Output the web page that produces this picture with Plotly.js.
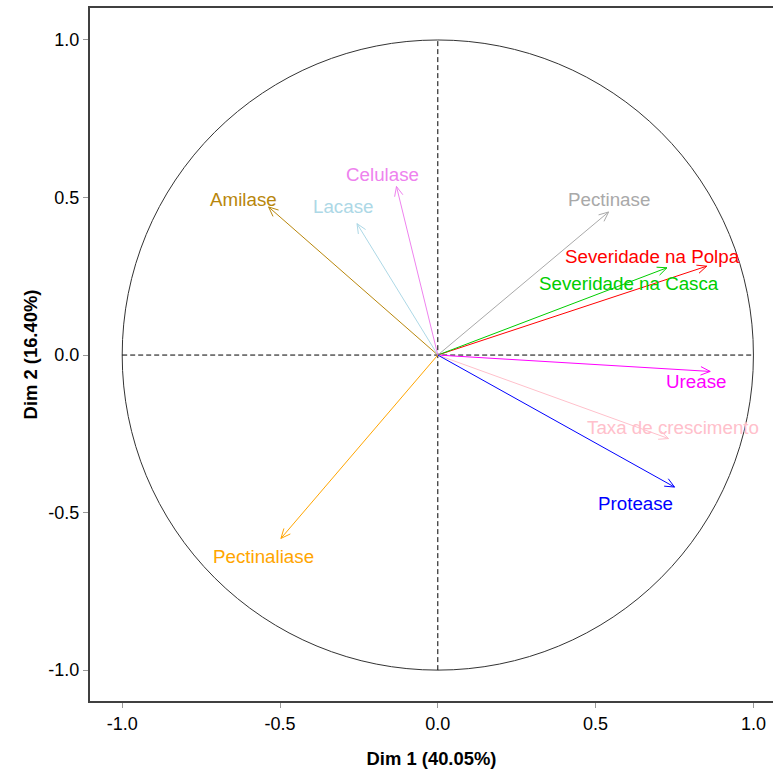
<!DOCTYPE html>
<html>
<head>
<meta charset="utf-8">
<script src="https://cdn.plot.ly/plotly-3.0.1.min.js"></script>
<style>
  html, body { margin: 0; padding: 0; background: #ffffff; }
  #chart { width: 773px; height: 769px; }
</style>
</head>
<body>
<div id="chart"></div>
<script>
// Variable loadings on the first two principal dimensions
const variables = ['Amilase', 'Lacase', 'Celulase', 'Pectinase', 'Severidade na Polpa',
  'Severidade na Casca', 'Urease', 'Taxa de crescimento', 'Protease', 'Pectinaliase'];
const dim1 = [-0.536, -0.256, -0.131, 0.541, 0.852, 0.726, 0.863, 0.731, 0.750, -0.497];
const dim2 = [0.470, 0.417, 0.535, 0.454, 0.282, 0.277, -0.052, -0.265, -0.419, -0.582];
const colors = ['#B8860B', '#ADD8E6', '#EE82EE', '#A9A9A9', '#FF0000',
  '#00CD00', '#FF00FF', '#FFC0CB', '#0000FF', '#FFA500'];
// Label anchor positions (data units)
const labelX = [-0.615, -0.302, -0.174, 0.543, 0.679, 0.606, 0.819, 0.745, 0.627, -0.552];
const labelY = [0.494, 0.472, 0.573, 0.494, 0.313, 0.227, -0.085, -0.230, -0.470, -0.640];
const tickVals = [-1, -0.5, 0, 0.5, 1];
const tickText = ['-1.0', '-0.5', '0.0', '0.5', '1.0'];
const xTitle = 'Dim 1 (40.05%)';
const yTitle = 'Dim 2 (16.40%)';
const circleRadius = 1;

const FONT = 'Arial, "Liberation Sans", sans-serif';
const HEAD_LEN = 0.033;
const HEAD_ANGLE = 24 * Math.PI / 180;

// Each loading vector: shaft from origin plus an open two-stroke head
const traces = variables.map((name, i) => {
  const x1 = dim1[i], y1 = dim2[i];
  const a = Math.atan2(y1, x1);
  const hx1 = x1 - HEAD_LEN * Math.cos(a - HEAD_ANGLE);
  const hy1 = y1 - HEAD_LEN * Math.sin(a - HEAD_ANGLE);
  const hx2 = x1 - HEAD_LEN * Math.cos(a + HEAD_ANGLE);
  const hy2 = y1 - HEAD_LEN * Math.sin(a + HEAD_ANGLE);
  return {
    type: 'scatter', mode: 'lines', name: name, showlegend: false, hoverinfo: 'skip',
    x: [0, x1, null, hx1, x1, hx2],
    y: [0, y1, null, hy1, y1, hy2],
    line: { color: colors[i], width: 1 }
  };
});

const annotations = variables.map((name, i) => ({
  x: labelX[i], y: labelY[i], xref: 'x', yref: 'y', text: name, showarrow: false,
  font: { family: FONT, size: 18.75, color: colors[i] }, xanchor: 'center', yanchor: 'middle'
}));

const shapes = [
  { type: 'circle', xref: 'x', yref: 'y', x0: -circleRadius, x1: circleRadius,
    y0: -circleRadius, y1: circleRadius, line: { color: '#333333', width: 1 }, layer: 'below' },
  { type: 'line', xref: 'x', yref: 'y', x0: -circleRadius, x1: circleRadius, y0: 0, y1: 0,
    line: { color: '#000000', width: 1, dash: '5px,3px' }, layer: 'below' },
  { type: 'line', xref: 'x', yref: 'y', x0: 0, x1: 0, y0: -circleRadius, y1: circleRadius,
    line: { color: '#000000', width: 1, dash: '5px,3px' }, layer: 'below' }
];

const axisCommon = {
  tickvals: tickVals, ticktext: tickText, ticks: 'outside', ticklen: 5, tickwidth: 1,
  tickcolor: '#999999', showgrid: false, zeroline: false, showline: true,
  linecolor: '#404040', linewidth: 2, tickfont: { family: FONT, size: 18, color: '#000000' }
};

const layout = {
  width: 773, height: 769,
  margin: { l: 90, r: 0, t: 8, b: 68 },
  paper_bgcolor: '#ffffff', plot_bgcolor: '#ffffff',
  showlegend: false,
  xaxis: Object.assign({}, axisCommon, {
    range: [-1.102, 1.062], mirror: true,
    title: { text: '<b>' + xTitle + '</b>', font: { family: FONT, size: 18.4, color: '#000000' }, standoff: 23 }
  }),
  yaxis: Object.assign({}, axisCommon, {
    range: [-1.098, 1.1015],
    title: { text: '<b>' + yTitle + '</b>', font: { family: FONT, size: 18.4, color: '#000000' }, standoff: 6 }
  }),
  shapes: shapes,
  annotations: annotations
};

Plotly.newPlot('chart', traces, layout, { displayModeBar: false, staticPlot: true });
</script>
</body>
</html>
